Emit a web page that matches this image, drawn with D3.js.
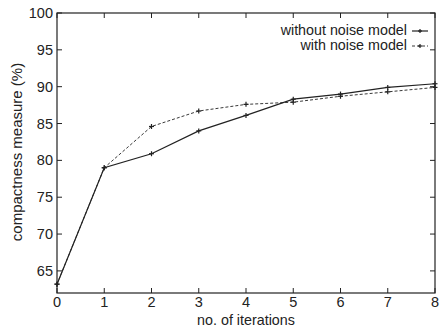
<!DOCTYPE html>
<html><head><meta charset="utf-8">
<script src="https://cdn.jsdelivr.net/npm/d3@7"></script>
<style>body{margin:0;background:#fff}svg{display:block}text{font-family:"Liberation Sans",Arial,sans-serif;fill:#222}</style>
</head><body>
<svg id="c" width="443" height="328"></svg>
<script>
const iterations = [0,1,2,3,4,5,6,7,8];
const withoutNoise = [63.2,79.0,80.9,84.0,86.1,88.3,89.0,89.9,90.4];
const withNoise = [63.2,79.0,84.6,86.7,87.6,87.9,88.7,89.3,89.9];
const yTicks = [65,70,75,80,85,90,95,100];
const xTicks = [0,1,2,3,4,5,6,7,8];
const seriesNames = ["without noise model","with noise model"];

const svg = d3.select("#c");
const L=57,R=435,T=13,B=293;
const x = d3.scaleLinear().domain([0,8]).range([L,R]);
const y = d3.scaleLinear().domain([62,100]).range([B,T]);
const col="#222";

svg.append("rect").attr("x",L).attr("y",T).attr("width",R-L).attr("height",B-T)
  .attr("fill","none").attr("stroke",col).attr("stroke-width",1.2);

const tl=5;
const g=svg.append("g");
yTicks.forEach(v=>{
  g.append("line").attr("x1",L).attr("x2",L+tl).attr("y1",y(v)).attr("y2",y(v)).attr("stroke",col);
  g.append("line").attr("x1",R).attr("x2",R-tl).attr("y1",y(v)).attr("y2",y(v)).attr("stroke",col);
  g.append("text").attr("x",L-4).attr("y",y(v)+5).attr("text-anchor","end").attr("font-size",14.5).text(v);
});
xTicks.forEach(v=>{
  g.append("line").attr("x1",x(v)).attr("x2",x(v)).attr("y1",B).attr("y2",B-tl).attr("stroke",col);
  g.append("line").attr("x1",x(v)).attr("x2",x(v)).attr("y1",T).attr("y2",T+tl).attr("stroke",col);
  g.append("text").attr("x",x(v)).attr("y",B+14).attr("text-anchor","middle").attr("font-size",14.5).text(v);
});

svg.append("text").attr("x",(L+R)/2).attr("y",325).attr("text-anchor","middle").attr("font-size",14.3).text("no. of iterations");
svg.append("text").attr("transform",`translate(22,152) rotate(-90)`).attr("text-anchor","middle").attr("font-size",15).text("compactness measure (%)");

const line=d3.line().x((d,i)=>x(iterations[i])).y(d=>y(d));
const series=[{v:withoutNoise,dash:null},{v:withNoise,dash:"3,2"}];
series.forEach(s=>{
  const p=svg.append("path").attr("d",line(s.v)).attr("fill","none").attr("stroke",col).attr("stroke-width",1.2);
  if(s.dash) p.attr("stroke-dasharray",s.dash).attr("stroke-width",0.9);
  s.v.forEach((d,i)=>{
    const cx=x(iterations[i]),cy=y(d);
    svg.append("line").attr("x1",cx-2.5).attr("x2",cx+2.5).attr("y1",cy).attr("y2",cy).attr("stroke",col).attr("stroke-width",1.2);
    svg.append("line").attr("x1",cx).attr("x2",cx).attr("y1",cy-2.5).attr("y2",cy+2.5).attr("stroke",col).attr("stroke-width",1.2);
  });
});

// legend
seriesNames.forEach((n,i)=>{
  const ly=31+i*15;
  svg.append("text").attr("x",407).attr("y",ly+4).attr("text-anchor","end").attr("font-size",14.3).text(n);
  const ln=svg.append("line").attr("x1",412).attr("x2",428).attr("y1",ly).attr("y2",ly).attr("stroke",col).attr("stroke-width",series[i].dash?0.9:1.2);
  if(series[i].dash) ln.attr("stroke-dasharray",series[i].dash);
  svg.append("line").attr("x1",420).attr("x2",420).attr("y1",ly-2).attr("y2",ly+2).attr("stroke",col).attr("stroke-width",1.2);
  svg.append("line").attr("x1",418).attr("x2",422).attr("y1",ly).attr("y2",ly).attr("stroke",col).attr("stroke-width",1.2);
});
</script>
</body></html>
